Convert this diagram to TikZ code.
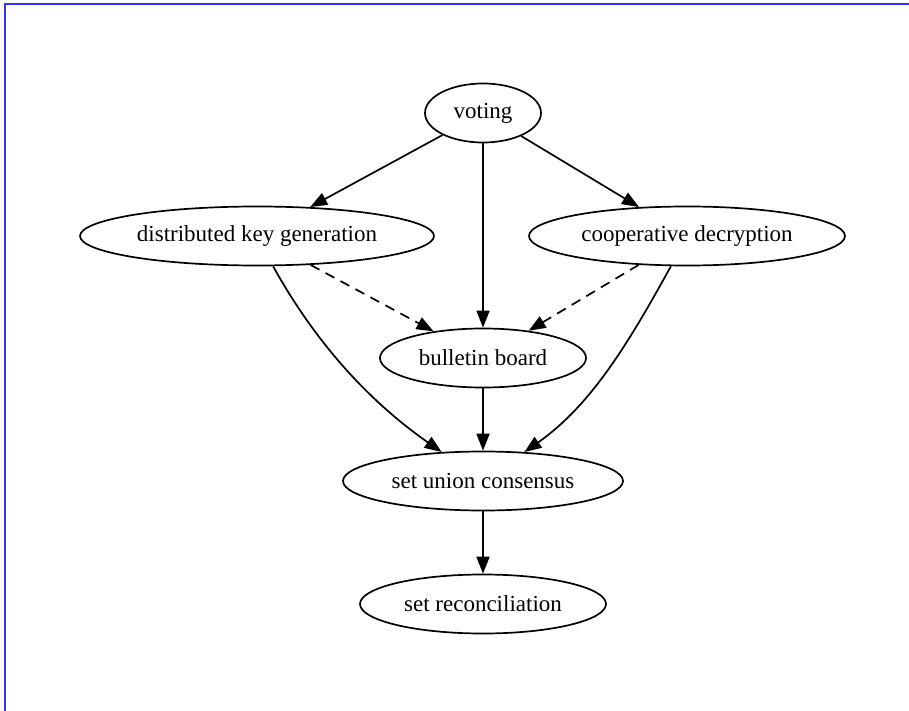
\documentclass[tikz,border=0pt]{standalone}
\usepackage{fontspec}
\setmainfont{Liberation Serif}
\usetikzlibrary{shapes.geometric,arrows.meta}

\begin{document}
\begin{tikzpicture}[x=1pt,y=-1pt,
    every node/.style={ellipse,draw,line width=1.7pt,inner sep=0pt,minimum height=59pt,font=\fontsize{23}{27}\selectfont},
    edge/.style={line width=1.7pt,-{Triangle[length=17pt,width=13pt]}},
    weak/.style={edge,dash pattern=on 10pt off 7pt}]
    \useasboundingbox (0,0) rectangle (909,711);
    \draw [line width=2.5pt,color=blue!80] (5,711) -- (5,4) -- (909,4);
    \node (voting) [minimum width=116pt] at (483,113) {voting};
    \node (dkg) [minimum width=354pt] at (257,236) {distributed key generation};
    \node (coop) [minimum width=316pt] at (687,236) {cooperative decryption};
    \node (bb) [minimum width=206pt] at (483,358) {bulletin board};
    \node (suc) [minimum width=280pt] at (483,481) {set union consensus};
    \node (sr) [minimum width=246pt] at (483,604) {set reconciliation};
    \draw [edge] (voting) -- (dkg);
    \draw [edge] (voting) -- (bb);
    \draw [edge] (voting) -- (coop);
    \draw [weak] (dkg) -- (bb);
    \draw [weak] (coop) -- (bb);
    \draw [edge] (dkg.-62) to[out=-61,in=145,looseness=0.9] (suc.145);
    \draw [edge] (coop.-118) to[out=-119,in=35,looseness=0.9] (suc.35);
    \draw [edge] (bb) -- (suc);
    \draw [edge] (suc) -- (sr);
\end{tikzpicture}
\end{document}
